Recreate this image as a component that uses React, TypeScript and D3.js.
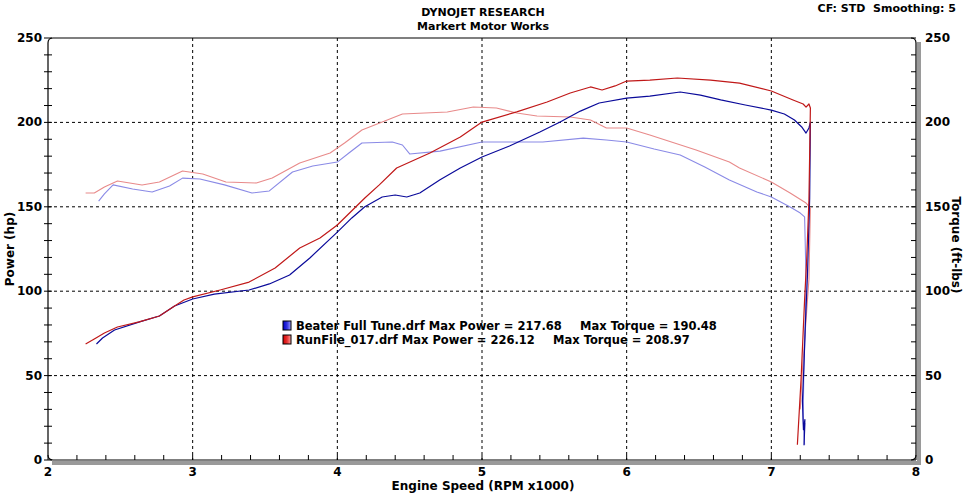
import React from "react";
import * as d3 from "d3";

// ---- Data (RPM x1000, value) ----
const xTicks = [2, 3, 4, 5, 6, 7, 8];
const yTicks = [0, 50, 100, 150, 200, 250];

const bluePowerX = [2.335, 2.377, 2.46, 2.633, 2.77, 2.875, 3.0, 3.15, 3.39, 3.53, 3.67, 3.81, 4.0, 4.1, 4.19, 4.31, 4.4, 4.48, 4.57, 4.71, 4.85, 5.0, 5.19, 5.4, 5.54, 5.68, 5.81, 6.0, 6.16, 6.37, 6.51, 6.65, 6.82, 7.0, 7.09, 7.16, 7.21, 7.24, 7.26, 7.27, 7.265, 7.25, 7.235, 7.225, 7.215, 7.222, 7.232, 7.226, 7.232];
const bluePowerY = [68.7, 72.3, 77, 81.8, 85.3, 91.2, 95.4, 98.3, 100.7, 104.3, 109.6, 119.7, 135, 143.4, 150, 155.8, 157, 155.8, 158.2, 166, 173, 179.5, 186, 194.3, 200.2, 206.7, 211.5, 214.4, 215.6, 218, 216.2, 213.3, 210.3, 207.3, 205, 201.4, 197.3, 193.7, 196.7, 200.2, 155, 110, 80, 55, 35, 18, 24, 9, 22];

const redPowerX = [2.26, 2.32, 2.39, 2.48, 2.63, 2.77, 2.875, 2.94, 3.0, 3.19, 3.39, 3.57, 3.74, 3.88, 4.0, 4.19, 4.29, 4.41, 4.64, 4.85, 5.0, 5.24, 5.45, 5.61, 5.75, 5.83, 5.92, 6.0, 6.16, 6.35, 6.58, 6.78, 7.0, 7.15, 7.22, 7.24, 7.26, 7.27, 7.26, 7.245, 7.23, 7.205, 7.18];
const redPowerY = [68.7, 71.7, 75.2, 78.8, 81.8, 85.3, 91.2, 94.8, 96.6, 100.7, 105.4, 113.7, 125.6, 131.5, 139.2, 155.2, 163, 173, 181.9, 191.3, 200.2, 206.2, 212.1, 217.4, 221, 219.2, 221.6, 224.5, 225.1, 226.3, 225.1, 223.3, 218.6, 213.3, 210.9, 209.1, 210.9, 208.5, 154, 120, 95, 47, 9];

const blueTorqueX = [2.35, 2.39, 2.45, 2.585, 2.72, 2.84, 2.93, 3.05, 3.22, 3.41, 3.53, 3.69, 3.83, 4.0, 4.08, 4.17, 4.38, 4.45, 4.5, 4.71, 5.0, 5.42, 5.7, 5.86, 6.0, 6.19, 6.37, 6.54, 6.71, 6.9, 7.0, 7.13, 7.2, 7.23, 7.24, 7.235, 7.225, 7.22, 7.23];
const blueTorqueY = [153.4, 157.6, 163, 160.5, 158.8, 162.3, 167, 166.5, 163, 158.2, 159.4, 170.6, 174.2, 176.5, 181.9, 187.8, 188.4, 186.6, 181.3, 183, 188.4, 188.4, 190.7, 189.6, 188.4, 184.2, 180.7, 173.6, 165.9, 158.8, 155.8, 149.9, 146.3, 144, 107, 80, 55, 24, 9];

const redTorqueX = [2.26, 2.32, 2.39, 2.48, 2.65, 2.77, 2.93, 3.07, 3.23, 3.44, 3.55, 3.74, 3.95, 4.05, 4.17, 4.31, 4.45, 4.76, 4.94, 5.1, 5.24, 5.38, 5.61, 5.75, 5.86, 6.0, 6.16, 6.48, 6.71, 6.78, 7.0, 7.13, 7.24, 7.27, 7.26, 7.235, 7.215, 7.2];
const redTorqueY = [158.2, 158.2, 161.7, 165.3, 162.9, 164.7, 171.2, 169.4, 164.7, 164.1, 167.1, 175.9, 181.9, 187.8, 195.5, 200.2, 205, 206.2, 209.1, 208.5, 205.6, 203.8, 203.2, 201.4, 196.7, 196.7, 192.5, 183.6, 176.5, 173, 164.7, 158.2, 152.2, 149.3, 107, 77, 53, 30];

const legendNames = ["Beater Full Tune.drf", "RunFile_017.drf"];
const legendMaxPower = ["217.68", "226.12"];
const legendMaxTorque = ["190.48", "208.97"];

const W = 965, H = 493;
const L = 48, R = 916, T = 38, B = 460;

export default function App() {
  const x = d3.scaleLinear().domain([2, 8]).range([L, R]);
  const y = d3.scaleLinear().domain([0, 250]).range([B, T]);
  const mk = (xs: number[], ys: number[]) =>
    d3.line<number>().x((_, i) => x(xs[i])).y((d) => y(d))(ys) || "";

  const font = "'DejaVu Sans', Verdana, sans-serif";
  const minorY = d3.range(0, 251, 10);
  const minorX = d3.range(2, 8.001, 0.2);
  const r = 5;
  const framePath = `M${L},${B - r} L${L},${T + r} Q${L},${T} ${L + r},${T} L${R - r},${T} Q${R},${T} ${R},${T + r} L${R},${B - r} Q${R},${B} ${R - r},${B} L${L + r},${B} Q${L},${B} ${L},${B - r} Z`;

  const series = [
    { xs: redTorqueX, ys: redTorqueY, c: "#e88a8a", w: 1.1 },
    { xs: blueTorqueX, ys: blueTorqueY, c: "#8a8ae6", w: 1.1 },
    { xs: bluePowerX, ys: bluePowerY, c: "#0a0a9a", w: 1.2 },
    { xs: redPowerX, ys: redPowerY, c: "#c01818", w: 1.2 },
  ];

  return (
    <svg width={W} height={H} style={{ position: "absolute", left: 0, top: 0, background: "#fff" }} fontFamily={font}>
      <defs>
        <linearGradient id="gb" x1="0" x2="1">
          <stop offset="0" stopColor="#0000c8" />
          <stop offset="0.5" stopColor="#3030e0" />
          <stop offset="1" stopColor="#a0a0ff" />
        </linearGradient>
        <linearGradient id="gr" x1="0" x2="1">
          <stop offset="0" stopColor="#d00000" />
          <stop offset="0.5" stopColor="#e83030" />
          <stop offset="1" stopColor="#ffa0a0" />
        </linearGradient>
      </defs>
      <rect x={0} y={0} width={W} height={H} fill="#fff" />
      {/* titles */}
      <text x={483} y={16} textAnchor="middle" fontSize={11} fontWeight="bold">DYNOJET RESEARCH</text>
      <text x={483} y={30} textAnchor="middle" fontSize={11} fontWeight="bold">Markert Motor Works</text>
      <text x={956} y={12} textAnchor="end" fontSize={11} fontWeight="bold" style={{ whiteSpace: "pre" }}>{"CF: STD  Smoothing: 5"}</text>

      {/* shadow */}
      <path d={`M${R + 3},${T + 4} L${R + 3},${B + 3} L${L + 4},${B + 3}`} fill="none" stroke="#9a9a9a" strokeWidth={4} />

      {/* grid */}
      {yTicks.filter((v) => v > 0 && v < 250).map((v) => (
        <line key={"gy" + v} x1={L} x2={R} y1={y(v)} y2={y(v)} stroke="#000" strokeWidth={1} strokeDasharray="3,3" />
      ))}
      {xTicks.filter((v) => v > 2 && v < 8).map((v) => (
        <line key={"gx" + v} x1={x(v)} x2={x(v)} y1={T} y2={B} stroke="#000" strokeWidth={1} strokeDasharray="3,3" />
      ))}

      {/* frame */}
      <path d={framePath} fill="none" stroke="#000" strokeWidth={1.2} />

      {/* minor ticks */}
      {minorY.map((v) => (
        <g key={"my" + v}>
          <line x1={L - 4} x2={L + 4} y1={y(v)} y2={y(v)} stroke="#000" />
          <line x1={R - 5} x2={R} y1={y(v)} y2={y(v)} stroke="#000" />
        </g>
      ))}
      {minorX.map((v, i) => (
        <line key={"mx" + i} x1={x(v)} x2={x(v)} y1={B - 5} y2={B} stroke="#000" />
      ))}

      {/* tick labels */}
      {yTicks.map((v) => (
        <g key={"ly" + v}>
          <text x={42} y={y(v) + 4} textAnchor="end" fontSize={12} fontWeight="bold">{v}</text>
          <text x={925} y={y(v) + 4} textAnchor="start" fontSize={12} fontWeight="bold">{v}</text>
        </g>
      ))}
      {xTicks.map((v) => (
        <text key={"lx" + v} x={x(v)} y={476} textAnchor="middle" fontSize={12} fontWeight="bold">{v}</text>
      ))}

      {/* axis titles */}
      <text transform={`translate(14,249) rotate(-90)`} textAnchor="middle" fontSize={12} fontWeight="bold">Power (hp)</text>
      <text transform={`translate(952,245) rotate(90)`} textAnchor="middle" fontSize={12} fontWeight="bold">Torque (ft-lbs)</text>
      <text x={483} y={490} textAnchor="middle" fontSize={12} fontWeight="bold">Engine Speed (RPM x1000)</text>

      {/* series */}
      {series.map((s, i) => (
        <path key={"s" + i} d={mk(s.xs, s.ys)} fill="none" stroke={s.c} strokeWidth={s.w} strokeLinejoin="round" />
      ))}

      {/* legend */}
      {legendNames.map((n, i) => (
        <g key={"lg" + i}>
          <rect x={283} y={321 + i * 14} width={8} height={9} fill={i === 0 ? "url(#gb)" : "url(#gr)"} stroke="#000" strokeWidth={1} />
          <text x={296} y={330 + i * 14} fontSize={11.5} fontWeight="bold">{`${n} Max Power = ${legendMaxPower[i]}`}</text>
          <text x={i === 0 ? 580 : 553} y={330 + i * 14} fontSize={11.5} fontWeight="bold">{`Max Torque = ${legendMaxTorque[i]}`}</text>
        </g>
      ))}
    </svg>
  );
}
